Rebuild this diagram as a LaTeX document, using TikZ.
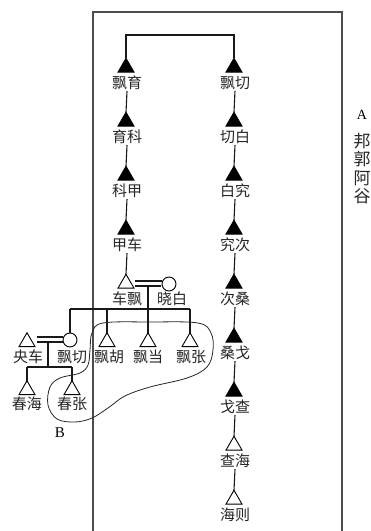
\documentclass[tikz,border=0pt]{standalone}
\usepackage{fontspec}
\setmainfont{Liberation Serif}
\newfontfamily\cjk{Noto Sans CJK SC}
\usetikzlibrary{shapes.geometric}
\tikzset{
  tri/.style={regular polygon, regular polygon sides=3, minimum size=18.5pt, inner sep=0pt, outer sep=0pt, draw=black, line width=0.9pt},
  ftri/.style={tri, fill=black},
  otri/.style={tri, fill=white},
  fem/.style={circle, draw=black, line width=0.9pt, minimum size=14pt, inner sep=0pt, outer sep=0pt},
  lab/.style={font=\cjk\fontsize{15}{16}\selectfont, text=black!85, inner sep=1pt},
  link/.style={line width=1.1pt, black!90},
  frame/.style={line width=1.2pt, black!70},
  loop/.style={line width=0.8pt, black!85},
}
\begin{document}
\begin{tikzpicture}[x=1pt,y=-1pt]
\useasboundingbox (0,0) rectangle (371,531);
% frame A
\draw[frame] (93,531) -- (93,12) -- (342,12) -- (342,531);
\node[font=\fontsize{14}{14}\selectfont, inner sep=0pt] (A) at (362,115) {A};
\node[font=\cjk\fontsize{17}{18.5}\selectfont, align=center, inner sep=0pt, anchor=north, text=black!85] (Aname) at (362,133) {邦\\郭\\阿\\谷};
% main columns
\foreach \n/\t/\x/\k/\s in {L0/飘育/126/0/ftri, L1/育科/126/1/ftri, L2/科甲/126/2/ftri, L3/甲车/126/3/ftri, L4/车飘/126/4/otri,
  R0/飘切/234/0/ftri, R1/切白/234/1/ftri, R2/白究/234/2/ftri, R3/究次/234/3/ftri, R4/次桑/234/4/ftri, R5/桑戈/234/5/ftri, R6/戈查/234/6/ftri, R7/查海/234/7/otri, R8/海则/234/8/otri}{
  \node[\s] (t\n) at (\x, 83+54*\k-15.5) {};
  \node[lab] (l\n) at (\x+1, 83+54*\k) {\t};
}
\coordinate (top) at (180,35);
\draw[link] (tL0.north) |- (top) -| (tR0.north);
\foreach \a/\b in {L0/L1, L1/L2, L2/L3, L3/L4, R0/R1, R1/R2, R2/R3, R3/R4, R4/R5, R5/R6, R6/R7, R7/R8}
  \draw[link] (l\a.south) -- (t\b.north);
% marriage of 车飘 and 晓白
\node[fem] (xb) at (169,284) {};
\node[lab] (lxb) at (172,299) {晓白};
\draw[link] (135,281) -- (xb.west |- 0,281);
\draw[link] (135,286) -- (161,286);
\coordinate (m1) at (148,286);
\coordinate (s1) at (148,309);
\draw[link] (m1) -- (s1);
% children
\node[fem] (pq) at (70,340) {};
\node[lab] (lpq) at (72,357) {飘切};
\node[otri] (ph) at (107,333+9) {};
\node[lab] (lph) at (109,357) {飘胡};
\node[otri] (pd) at (148,333+9) {};
\node[lab] (lpd) at (148,357) {飘当};
\node[otri] (pz) at (190,333+9) {};
\node[lab] (lpz) at (191,357) {飘张};
\coordinate (sl) at (70,309);
\coordinate (sr) at (190,309);
\draw[link] (sl) -- (sr);
\draw[link] (sl) -- (pq.north);
\draw[link] (ph.north |- sl) -- (ph.north);
\draw[link] (s1) -- (pd.north);
\draw[link] (sr) -- (pz.north);
% marriage of 央车 and 飘切
\node[otri] (yc) at (27,333+9) {};
\node[lab] (lyc) at (28,357) {央车};
\draw[link] (37,337) -- (63,337);
\draw[link] (37,342) -- (63,342);
\coordinate (m2) at (48,342);
\coordinate (s2) at (48,367);
\draw[link] (m2) -- (s2);
\node[otri] (ch) at (27,381+9) {};
\node[lab] (lch) at (27,404) {春海};
\node[otri] (cz) at (72,381+9) {};
\node[lab] (lcz) at (72,404) {春张};
\draw[link] (ch.north |- s2) -- (cz.north |- s2);
\draw[link] (ch.north |- s2) -- (ch.north);
\draw[link] (cz.north |- s2) -- (cz.north);
% loop B
\draw[loop] plot[smooth cycle, tension=0.6] coordinates {
 (103,323) (150,322) (198,323) (211,333) (213,350) (207,367) (187,378) (150,387)
 (125,396) (108,408) (92,418) (75,422) (57,419) (48,405) (50,387) (60,378)
 (80,373) (88,365) (90,350) (92,333)};
\node[font=\fontsize{15}{15}\selectfont, inner sep=0pt] (B) at (60,433) {B};
\end{tikzpicture}
\end{document}
